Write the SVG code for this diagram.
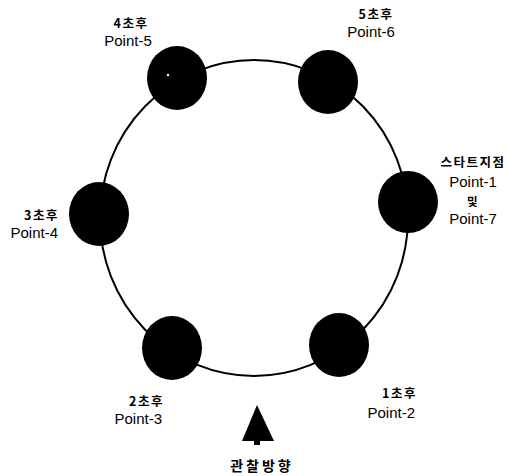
<svg xmlns="http://www.w3.org/2000/svg" width="509" height="476" viewBox="0 0 509 476">
<style>
.lbl{font-family:"Liberation Sans","Noto Sans CJK KR",sans-serif;font-size:15px;fill:#000}
.kr{font-family:"Noto Sans CJK KR","Liberation Sans",sans-serif;font-size:12.5px;font-weight:bold;fill:#000;letter-spacing:1.5px}
.dot{fill:#000}
</style>
<rect width="509" height="476" fill="#fff"/>
<g id="connectors">
<ellipse cx="254" cy="218" rx="154" ry="158" fill="none" stroke="#000" stroke-width="2"/>
</g>
<g id="point-1">
<ellipse class="dot" cx="408" cy="202" rx="30" ry="31"/>
<text class="kr" x="473" y="167" text-anchor="middle">스타트지점</text>
<text class="lbl" x="473" y="187" text-anchor="middle">Point-1</text>
<text class="kr" x="473" y="206" text-anchor="middle" style="font-size:11.5px">및</text>
<text class="lbl" x="473" y="224" text-anchor="middle">Point-7</text>
</g>
<g id="point-2">
<ellipse class="dot" cx="339" cy="345" rx="30" ry="32"/>
<text class="kr" x="417" y="398" text-anchor="end">1초후</text>
<text class="lbl" x="415" y="418" text-anchor="end">Point-2</text>
</g>
<g id="point-3">
<ellipse class="dot" cx="172" cy="348" rx="30" ry="32" fill="#0a0a0a"/>
<text class="kr" x="164" y="406" text-anchor="end">2초후</text>
<text class="lbl" x="162" y="424" text-anchor="end">Point-3</text>
</g>
<g id="point-4">
<ellipse class="dot" cx="99" cy="214" rx="30" ry="32"/>
<text class="kr" x="59" y="220" text-anchor="end">3초후</text>
<text class="lbl" x="58" y="238" text-anchor="end">Point-4</text>
</g>
<g id="point-5">
<ellipse class="dot" cx="177" cy="78" rx="30" ry="32"/>
<circle cx="168" cy="75" r="1.2" fill="#fff"/>
<text class="kr" x="131" y="28" text-anchor="middle">4초후</text>
<text class="lbl" x="128" y="46" text-anchor="middle">Point-5</text>
</g>
<g id="point-6">
<ellipse class="dot" cx="328" cy="82" rx="30" ry="32"/>
<text class="kr" x="376" y="19" text-anchor="middle">5초후</text>
<text class="lbl" x="371" y="37" text-anchor="middle">Point-6</text>
</g>
<g id="view-direction">
<polygon points="257,405 242,441 254,441 254,445 260,445 260,441 274,441" fill="#000"/>
<text class="kr" x="262" y="471" text-anchor="middle" style="font-size:14px;letter-spacing:3px">관찰방향</text>
</g>
</svg>
